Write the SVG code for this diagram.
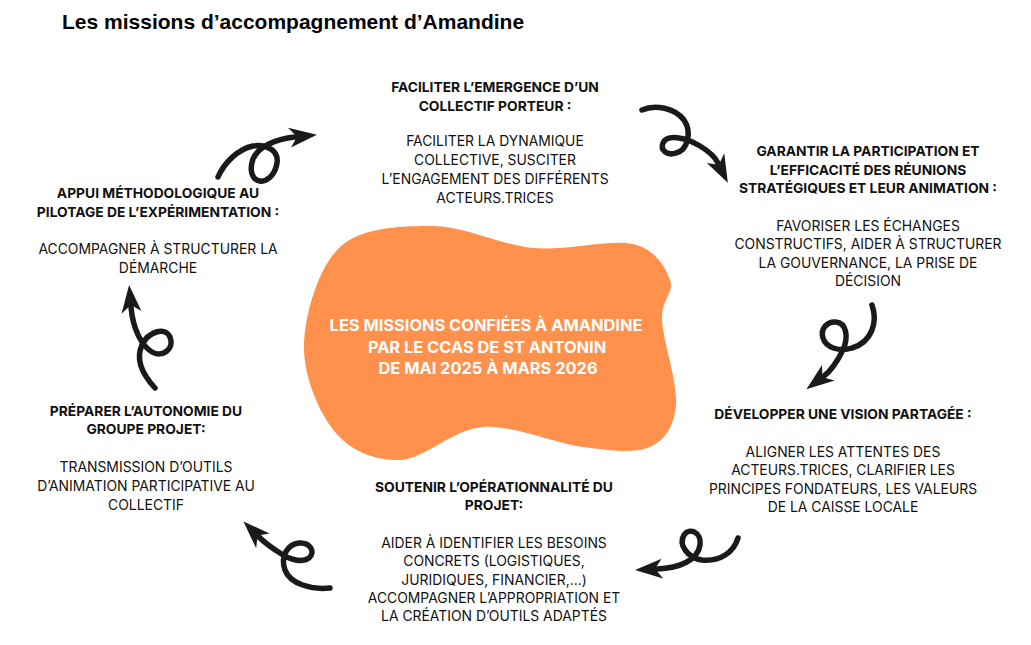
<svg xmlns="http://www.w3.org/2000/svg" width="1031" height="645" viewBox="0 0 1031 645">
<style>
.title{font-family:"Liberation Sans",Arial,sans-serif;font-weight:bold;font-size:21px;fill:#000}
.h{font-family:Inter,"Liberation Sans",sans-serif;font-weight:700;font-size:13.8px;fill:#111;text-anchor:middle}
.b{font-family:Inter,"Liberation Sans",sans-serif;font-weight:400;font-size:13.9px;fill:#111;text-anchor:middle}
.c{font-family:Inter,"Liberation Sans",sans-serif;font-weight:700;font-size:16.4px;fill:#fff;text-anchor:middle}
.arrow{fill:none;stroke:#1a1a1a;stroke-width:5.5;stroke-linecap:round;stroke-linejoin:round;marker-end:url(#head)}
</style>
<defs>
<marker id="head" markerUnits="userSpaceOnUse" viewBox="0 0 28 22" markerWidth="28" markerHeight="22" refX="6" refY="11" orient="auto">
<path d="M0,1 L28,11 L1,21 L8,11 Z" fill="#1a1a1a"/>
</marker>
</defs>
<rect width="1031" height="645" fill="#fff"/>
<text class="title" x="62" y="29">Les missions d’accompagnement d’Amandine</text>

<g id="center">
<path d="M340,247 C361.5,227.2 400.8,225.8 433,226 C465.2,226.2 499.7,245 533,248 C566.3,251 610.2,238.7 633,244 C655.8,249.3 665.2,267.3 670,280 C674.8,292.7 661,299.2 662,320 C663,340.8 678,383.8 676,405 C674,426.2 665.5,440 650,447 C634.5,454 610.8,450.3 583,447 C555.2,443.7 513.5,424.8 483,427 C452.5,429.2 424.7,459.2 400,460 C375.3,460.8 351,451.2 335,432 C319,412.8 303.2,375.8 304,345 C304.8,314.2 318.5,266.8 340,247 Z" fill="#FF914D"/>
<text class="c" x="486" y="331">LES MISSIONS CONFIÉES À AMANDINE</text>
<text class="c" x="487" y="353">PAR LE CCAS DE  ST ANTONIN</text>
<text class="c" x="488" y="374">DE MAI 2025 À MARS 2026</text>
</g>

<g id="mission-collectif">
<text class="h" x="495" y="92">FACILITER L’EMERGENCE D’UN</text>
<text class="h" x="495" y="111">COLLECTIF PORTEUR :</text>
<text class="b" x="495" y="146">FACILITER LA DYNAMIQUE</text>
<text class="b" x="495" y="165">COLLECTIVE, SUSCITER</text>
<text class="b" x="495" y="184">L’ENGAGEMENT DES DIFFÉRENTS</text>
<text class="b" x="495" y="203">ACTEURS.TRICES</text>
</g>

<g id="mission-participation">
<text class="h" x="868" y="156">GARANTIR  LA PARTICIPATION ET</text>
<text class="h" x="868" y="175">L’EFFICACITÉ DES RÉUNIONS</text>
<text class="h" x="868" y="193">STRATÉGIQUES ET LEUR ANIMATION :</text>
<text class="b" x="868" y="231">FAVORISER LES ÉCHANGES</text>
<text class="b" x="868" y="249">CONSTRUCTIFS, AIDER À STRUCTURER</text>
<text class="b" x="868" y="268">LA GOUVERNANCE, LA PRISE DE</text>
<text class="b" x="868" y="286">DÉCISION</text>
</g>

<g id="mission-vision">
<text class="h" x="843" y="419">DÉVELOPPER UNE VISION PARTAGÉE :</text>
<text class="b" x="843" y="457">ALIGNER LES ATTENTES DES</text>
<text class="b" x="843" y="475">ACTEURS.TRICES, CLARIFIER LES</text>
<text class="b" x="843" y="494">PRINCIPES FONDATEURS, LES VALEURS</text>
<text class="b" x="843" y="512">DE LA CAISSE LOCALE</text>
</g>

<g id="mission-operationnalite">
<text class="h" x="494" y="492">SOUTENIR L’OPÉRATIONNALITÉ DU</text>
<text class="h" x="494" y="510">PROJET:</text>
<text class="b" x="494" y="548">AIDER À IDENTIFIER LES BESOINS</text>
<text class="b" x="494" y="566">CONCRETS (LOGISTIQUES,</text>
<text class="b" x="494" y="585">JURIDIQUES, FINANCIER,...)</text>
<text class="b" x="494" y="603">ACCOMPAGNER L’APPROPRIATION ET</text>
<text class="b" x="494" y="621">LA CRÉATION D’OUTILS ADAPTÉS</text>
</g>

<g id="mission-autonomie">
<text class="h" x="146" y="416">PRÉPARER L’AUTONOMIE DU</text>
<text class="h" x="146" y="434">GROUPE PROJET:</text>
<text class="b" x="146" y="472">TRANSMISSION D’OUTILS</text>
<text class="b" x="146" y="491">D’ANIMATION PARTICIPATIVE AU</text>
<text class="b" x="146" y="510">COLLECTIF</text>
</g>

<g id="mission-methodo">
<text class="h" x="158" y="198">APPUI MÉTHODOLOGIQUE AU</text>
<text class="h" x="158" y="217">PILOTAGE DE L’EXPÉRIMENTATION :</text>
<text class="b" x="158" y="254">ACCOMPAGNER À STRUCTURER LA</text>
<text class="b" x="158" y="273">DÉMARCHE</text>
</g>

<g id="connectors">
<path class="arrow" d="M218,177 C224,163 238,149 253,146 C266,144 279,150 277,163 C275,176 266,182 260,181 C252,180 249,170 253,159 C258,147 275,139 295,137"/>
<path class="arrow" d="M642,110 C655,104 675,108 684,120 C692,132 688,150 676,153 C667,156 660,150 663,143 C667,134 685,137 700,146 C710,152 715,157 718,163"/>
<path class="arrow" d="M872,305 C878,322 872,342 852,348 C840,352 826,348 823,338 C820,328 828,321 836,322 C846,323 849,336 843,350 C838,360 832,370 824,376"/>
<path class="arrow" d="M738,538 C734,552 720,562 702,560 C688,558 678,545 684,535 C689,527 702,532 700,545 C698,560 680,568 657,569"/>
<path class="arrow" d="M330,588 C312,590 290,584 285,570 C280,556 288,544 299,543 C310,542 316,552 309,558 C302,563 290,560 280,553 C272,548 264,542 259,537"/>
<path class="arrow" d="M155,388 C143,375 135,360 142,345 C148,332 165,326 170,337 C175,349 162,358 152,352 C142,346 133,330 131,307"/>
</g>
</svg>
